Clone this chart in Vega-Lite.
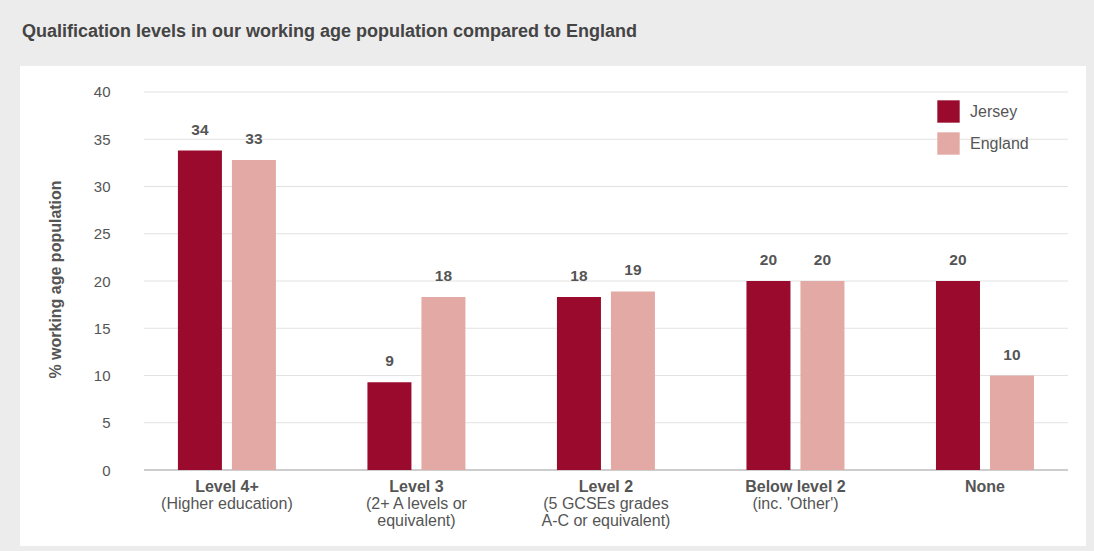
{
  "$schema": "https://vega.github.io/schema/vega-lite/v6.json",
  "width": 1066,
  "height": 480,
  "autosize": {"type": "none"},
  "padding": {"left": 20, "top": 66, "right": 8, "bottom": 5},
  "background": "#ececec",
  "config": {
    "view": {"fill": "#ffffff", "stroke": null},
    "font": "Liberation Sans"
  },
  "title": {
    "text": "Qualification levels in our working age population compared to England",
    "anchor": "start",
    "frame": "group",
    "fontSize": 18,
    "fontWeight": "bold",
    "color": "#444444",
    "font": "Liberation Sans",
    "baseline": "alphabetic",
    "offset": 11,
    "dx": 2
  },
  "datasets": {
    "main": [
      {"category": "Level 4+", "series": "Jersey", "value": 33.8},
      {"category": "Level 4+", "series": "England", "value": 32.8},
      {"category": "Level 3", "series": "Jersey", "value": 9.3},
      {"category": "Level 3", "series": "England", "value": 18.3},
      {"category": "Level 2", "series": "Jersey", "value": 18.3},
      {"category": "Level 2", "series": "England", "value": 18.9},
      {"category": "Below level 2", "series": "Jersey", "value": 20},
      {"category": "Below level 2", "series": "England", "value": 20},
      {"category": "None", "series": "Jersey", "value": 20},
      {"category": "None", "series": "England", "value": 10}
    ],
    "grid": [
      {"v": 0, "from": "Level 4+", "to": "None"},
      {"v": 5, "from": "Level 4+", "to": "None"},
      {"v": 10, "from": "Level 4+", "to": "None"},
      {"v": 15, "from": "Level 4+", "to": "None"},
      {"v": 20, "from": "Level 4+", "to": "None"},
      {"v": 25, "from": "Level 4+", "to": "None"},
      {"v": 30, "from": "Level 4+", "to": "None"},
      {"v": 35, "from": "Level 4+", "to": "None"},
      {"v": 40, "from": "Level 4+", "to": "None"}
    ]
  },
  "layer": [
    {
      "data": {"name": "grid"},
      "mark": {"type": "rule"},
      "encoding": {
        "x": {
          "field": "from",
          "type": "nominal",
          "bandPosition": 0,
          "scale": {"domain": ["Level 4+", "Level 3", "Level 2", "Below level 2", "None"], "paddingInner": 0.124, "paddingOuter": 0.3745, "align": 0.873},
          "axis": null
        },
        "x2": {"field": "to", "bandPosition": 1},
        "y": {
          "field": "v",
          "type": "quantitative",
          "scale": {"domain": [-8.04, 42.75], "nice": false, "zero": false},
          "axis": {
            "orient": "left",
            "offset": -90,
            "values": [0, 5, 10, 15, 20, 25, 30, 35, 40],
            "ticks": false,
            "tickSize": 0,
            "domain": false,
            "grid": false,
            "labelPadding": 0,
            "labelFontSize": 15,
            "labelColor": "#555555",
            "labelFont": "Liberation Sans",
            "title": "% working age population",
            "titleFontSize": 16,
            "titleFontWeight": "bold",
            "titleColor": "#555555",
            "titleFont": "Liberation Sans",
            "titleX": -47,
            "titleY": 213,
            "titleBaseline": "bottom",
            "titleAngle": -90
          }
        },
        "color": {"condition": {"test": "datum.v === 0", "value": "#bdbdbd"}, "value": "#e2e2e2"},
        "strokeWidth": {"condition": {"test": "datum.v === 0", "value": 1.5}, "value": 1}
      }
    },
    {
      "data": {"name": "main"},
      "mark": {"type": "bar"},
      "encoding": {
        "x": {
          "field": "category",
          "type": "nominal",
          "scale": {"domain": ["Level 4+", "Level 3", "Level 2", "Below level 2", "None"], "paddingInner": 0.124, "paddingOuter": 0.3745, "align": 0.873},
          "axis": {
            "orient": "bottom",
            "offset": -76,
            "title": null,
            "ticks": false,
            "tickSize": 0,
            "domain": false,
            "grid": false,
            "labelAngle": 0,
            "labelPadding": 8,
            "labelFontSize": 16,
            "labelFontWeight": "bold",
            "labelColor": "#555555",
            "labelFont": "Liberation Sans"
          }
        },
        "xOffset": {
          "field": "series",
          "type": "nominal",
          "scale": {"domain": ["Jersey", "England"], "paddingInner": 0.185, "paddingOuter": 0.63}
        },
        "y": {"field": "value", "type": "quantitative", "axis": null},
        "y2": {"datum": 0},
        "color": {
          "field": "series",
          "type": "nominal",
          "scale": {"domain": ["Jersey", "England"], "range": ["#990a2c", "#e3a9a5"]},
          "legend": {
            "orient": "none",
            "legendX": 917,
            "legendY": 34,
            "title": null,
            "symbolType": "square",
            "symbolSize": 500,
            "symbolStrokeWidth": 0,
            "labelFontSize": 16,
            "labelColor": "#555555",
            "labelFont": "Liberation Sans",
            "labelOffset": 10,
            "rowPadding": 9,
            "padding": 0
          }
        }
      }
    },
    {
      "data": {"name": "main"},
      "mark": {"type": "text", "baseline": "alphabetic", "dy": -16, "fontSize": 15.5, "fontWeight": "bold", "color": "#555555", "font": "Liberation Sans"},
      "encoding": {
        "x": {
          "field": "category",
          "type": "nominal",
          "scale": {"domain": ["Level 4+", "Level 3", "Level 2", "Below level 2", "None"], "paddingInner": 0.124, "paddingOuter": 0.3745, "align": 0.873},
          "axis": {
            "orient": "bottom",
            "offset": -76,
            "title": null,
            "ticks": false,
            "tickSize": 0,
            "domain": false,
            "grid": false,
            "labelAngle": 0,
            "labelPadding": 25,
            "labelFontSize": 16,
            "labelColor": "#555555",
            "labelFont": "Liberation Sans",
            "labelLineHeight": 17,
            "labelExpr": "{'Level 4+': ['(Higher education)'], 'Level 3': ['(2+ A levels or', 'equivalent)'], 'Level 2': ['(5 GCSEs grades', 'A-C or equivalent)'], 'Below level 2': [\"(inc. 'Other')\"], 'None': ['']}[datum.value]"
          }
        },
        "xOffset": {
          "field": "series",
          "type": "nominal",
          "scale": {"domain": ["Jersey", "England"], "paddingInner": 0.185, "paddingOuter": 0.63}
        },
        "y": {"field": "value", "type": "quantitative", "axis": null},
        "text": {"field": "value", "type": "quantitative", "format": ".0f"}
      }
    }
  ],
  "resolve": {"axis": {"x": "independent", "y": "independent"}}
}
